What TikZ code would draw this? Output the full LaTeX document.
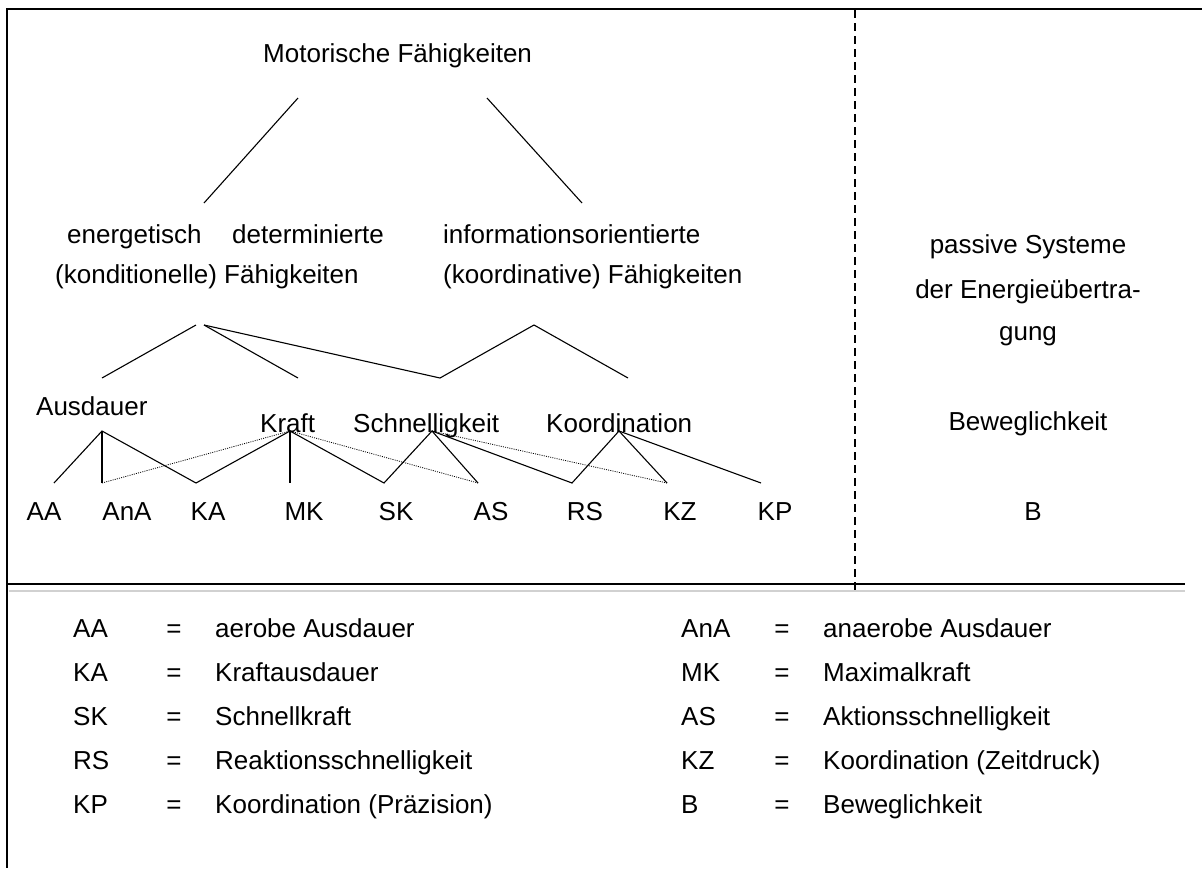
\documentclass[tikz,border=0pt]{standalone}
\usepackage{fontspec}
\setmainfont{Liberation Sans}
\begin{document}
\begin{tikzpicture}[x=1pt,y=-1pt,
  txt/.style={font=\fontsize{26}{31}\selectfont, inner sep=0pt, anchor=base west},
  ctxt/.style={font=\fontsize{26}{31}\selectfont, inner sep=0pt, anchor=base},
  frame/.style={line width=1.6pt, black},
  link/.style={line width=1.1pt, black},
  dotlink/.style={line width=0.8pt, black, dash pattern=on 1pt off 1.2pt}]
\useasboundingbox (0,0) rectangle (1202,868);

% frame and dividers
\draw[frame] (1202,9) -- (7,9) -- (7,868);
\draw[frame] (7,584) -- (1185,584);
\draw[line width=2pt, black!18] (9,590.5) -- (1185,590.5);
\draw[frame, dash pattern=on 8pt off 5pt] (855,10) -- (855,592);

% headings
\node[txt] (mot) at (263,62) {Motorische Fähigkeiten};
\node[txt] (en1) at (67,243) {energetisch};
\node[txt] (en2) at (232,243) {determinierte};
\node[txt] (kon) at (55,283) {(konditionelle) Fähigkeiten};
\node[txt] (inf) at (443,243) {informationsorientierte};
\node[txt] (koo) at (443,283) {(koordinative) Fähigkeiten};

% right panel
\node[ctxt] (pas1) at (1028,253) {passive Systeme};
\node[ctxt] (pas2) at (1028,298) {der Energieübertra-};
\node[ctxt] (pas3) at (1028,340) {gung};
\node[ctxt] (bew) at (1028,430) {Beweglichkeit};
\node[ctxt] (lb) at (1033,520) {B};

% abilities
\node[txt] (aus) at (36,415) {Ausdauer};
\node[txt] (kra) at (260,432) {Kraft};
\node[txt] (sch) at (353,432) {Schnelligkeit};
\node[txt] (kor) at (546,432) {Koordination};

% components
\node[ctxt] (laa) at (44,520) {AA};
\node[ctxt] (lana) at (127,520) {AnA};
\node[ctxt] (lka) at (208,520) {KA};
\node[ctxt] (lmk) at (304,520) {MK};
\node[ctxt] (lsk) at (396,520) {SK};
\node[ctxt] (las) at (491,520) {AS};
\node[ctxt] (lrs) at (585,520) {RS};
\node[ctxt] (lkz) at (680,520) {KZ};
\node[ctxt] (lkp) at (775,520) {KP};

% connector points
\coordinate (m1) at (298,98);   \coordinate (m2) at (487,98);
\coordinate (e0) at (204,203);  \coordinate (i0) at (582,203);
\coordinate (ea) at (196,325);  \coordinate (eb) at (204,325);
\coordinate (t1) at (102,378);  \coordinate (t2) at (298,378);
\coordinate (t3) at (440,378);  \coordinate (ia) at (534,325);
\coordinate (t4) at (628,378);
\coordinate (pA) at (102,431);  \coordinate (pK) at (290,431);
\coordinate (pS) at (432,431);  \coordinate (pC) at (619,431);
\coordinate (cAA) at (54,483);  \coordinate (cAnA) at (102,483);
\coordinate (cKA) at (196,483); \coordinate (cMK) at (290,483);
\coordinate (cSK) at (384,483); \coordinate (cAS) at (478,483);
\coordinate (cRS) at (572,483); \coordinate (cKZ) at (667,483);
\coordinate (cKP) at (761,483);

% upper tree
\draw[link] (m1) -- (e0);
\draw[link] (m2) -- (i0);
\draw[link] (ea) -- (t1);
\draw[link] (eb) -- (t2);
\draw[link] (eb) -- (t3) -- (ia) -- (t4);

% lower tree
\draw[link] (cAA) -- (pA) -- (cKA) -- (pK) -- (cSK) -- (pS) -- (cAS);
\draw[link] (pA) -- (cAnA);
\draw[link] (pK) -- (cMK);
\draw[link] (pS) -- (cRS) -- (pC) -- (cKZ);
\draw[link] (pC) -- (cKP);
\draw[dotlink] (cAnA) -- (pK) -- (cAS);
\draw[dotlink] (pS) -- (cKZ);

% legend
\foreach \y/\a/\b/\c/\d [count=\i] in {
  637/AA/aerobe Ausdauer/AnA/anaerobe Ausdauer,
  681/KA/Kraftausdauer/MK/Maximalkraft,
  725/SK/Schnellkraft/AS/Aktionsschnelligkeit,
  769/RS/Reaktionsschnelligkeit/KZ/Koordination (Zeitdruck),
  813/KP/Koordination (Präzision)/B/Beweglichkeit}{
  \node[txt] (la\i) at (73,\y) {\a};
  \node[ctxt] (le\i) at (174,\y) {=};
  \node[txt] (ld\i) at (215,\y) {\b};
  \node[txt] (ra\i) at (681,\y) {\c};
  \node[ctxt] (re\i) at (782,\y) {=};
  \node[txt] (rd\i) at (823,\y) {\d};
}
\end{tikzpicture}
\end{document}
